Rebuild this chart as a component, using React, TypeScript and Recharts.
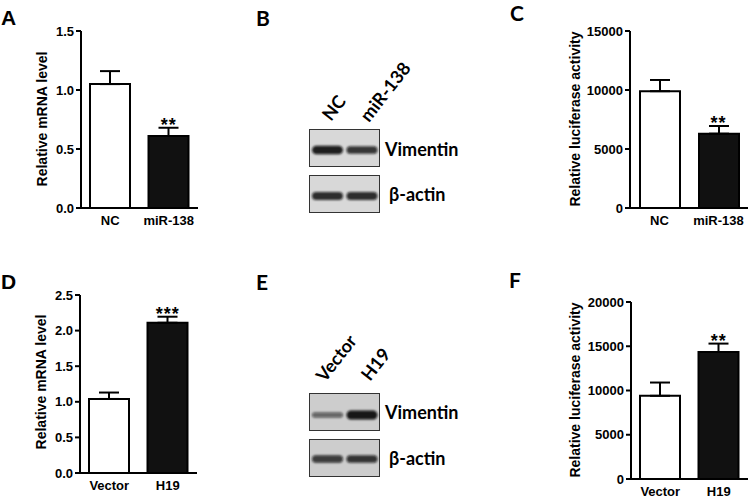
import React from "react";
import { ComposedChart, BarChart, Bar, XAxis, YAxis, ErrorBar, Scatter, Cell } from "recharts";

// ---------- data ----------
const mrnaA_groups = ["NC", "miR-138"];
const mrnaA_mean = [1.05, 0.61];
const mrnaA_sem = [0.11, 0.07];
const mrnaA_sig = ["", "**"];
const mrnaA_ticks = [0, 0.5, 1.0, 1.5];

const lucC_groups = ["NC", "miR-138"];
const lucC_mean = [9900, 6300];
const lucC_sem = [950, 650];
const lucC_sig = ["", "**"];
const lucC_ticks = [0, 5000, 10000, 15000];

const mrnaD_groups = ["Vector", "H19"];
const mrnaD_mean = [1.04, 2.11];
const mrnaD_sem = [0.09, 0.085];
const mrnaD_sig = ["", "***"];
const mrnaD_ticks = [0, 0.5, 1.0, 1.5, 2.0, 2.5];

const lucF_groups = ["Vector", "H19"];
const lucF_mean = [9400, 14350];
const lucF_sem = [1500, 950];
const lucF_sig = ["", "**"];
const lucF_ticks = [0, 5000, 10000, 15000, 20000];

const blotB_lanes = ["NC", "miR-138"];
const blotB_vimentin = [0.95, 0.78];
const blotB_actin = [0.85, 0.85];
const blotE_lanes = ["Vector", "H19"];
const blotE_vimentin = [0.4, 1.0];
const blotE_actin = [0.72, 0.78];

const proteinLabels = ["Vimentin", "β-actin"];

// ---------- styles ----------
const FONT = "'Liberation Sans', Arial, sans-serif";
const FONT2 = "Lato, 'Open Sans', sans-serif";
const BAR_FILLS = ["#ffffff", "#111111"];
const AX = { stroke: "#000", strokeWidth: 2 };
const TICK = { fill: "#000", fontSize: 13, fontWeight: 700, fontFamily: FONT };

type PanelProps = {
  groups: string[]; mean: number[]; sem: number[]; sig: string[]; ticks: number[];
  fmt: (v: number) => string; title: string;
  left: number; top: number; width: number; height: number;
  yAxisWidth: number; marginTop: number; marginRight: number; xAxisHeight: number;
  titleX: number; titleY: number;
};

const starShape = (p: any) => {
  const s = p && p.payload && p.payload.sig;
  if (!s) return <g />;
  return (
    <text x={p.cx} y={p.cy + 3} textAnchor="middle" fontSize={18} fontWeight={700} fontFamily={FONT} fill="#000" letterSpacing={1}>
      {s}
    </text>
  );
};

function BarPanel(p: PanelProps) {
  const data = p.groups.map((g, i) => ({
    group: g,
    mean: p.mean[i],
    err: [0, p.sem[i]],
    starY: p.mean[i] + p.sem[i],
    sig: p.sig[i],
  }));
  const max = p.ticks[p.ticks.length - 1];
  return (
    <div style={{ position: "absolute", left: p.left, top: p.top }}>
      <ComposedChart
        width={p.width}
        height={p.height}
        data={data}
        margin={{ top: p.marginTop, right: p.marginRight, bottom: 0, left: 0 }}
      >
        <XAxis dataKey="group" height={p.xAxisHeight} tickLine={false} axisLine={AX} tick={TICK} interval={0} />
        <YAxis
          type="number"
          domain={[0, max]}
          ticks={p.ticks}
          width={p.yAxisWidth}
          tickFormatter={p.fmt}
          tickSize={5}
          axisLine={AX}
          tickLine={AX}
          tick={TICK}
          allowDataOverflow
          label={() => (
            <text
              x={p.titleX}
              y={p.titleY}
              transform={`rotate(-90 ${p.titleX} ${p.titleY})`}
              textAnchor="middle"
              fontSize={14}
              fontWeight={700}
              fontFamily={FONT}
              fill="#000"
            >
              {p.title}
            </text>
          )}
        />
        <Bar dataKey="mean" barSize={40} stroke="#000" strokeWidth={2} isAnimationActive={false}>
          {data.map((d, i) => (
            <Cell key={i} fill={BAR_FILLS[i]} />
          ))}
          <ErrorBar dataKey="err" width={10} stroke="#000" strokeWidth={2} direction="y" isAnimationActive={false} />
        </Bar>
        <Scatter dataKey="starY" shape={starShape} isAnimationActive={false} />
      </ComposedChart>
    </div>
  );
}

type StripProps = { lanes: string[]; values: number[]; left: number; top: number; bg: string; bandY: number; id: string };

function BlotStrip(s: StripProps) {
  const data = s.lanes.map((l, i) => ({ lane: l, v: s.values[i] }));
  const shape = (props: any) => {
    const v = props.payload.v;
    const h = 3 + 6 * v;
    const cy = s.bandY;
    return (
      <g>
        <defs>
          <filter id={s.id} x="-20%" y="-100%" width="140%" height="300%">
            <feGaussianBlur stdDeviation={1.1} />
          </filter>
        </defs>
        <rect
          x={props.x + 1}
          y={cy - h / 2}
          width={props.width - 2}
          height={h}
          rx={h / 2}
          fill={`rgba(12,12,12,${0.3 + 0.65 * v})`}
          filter={`url(#${s.id})`}
        />
      </g>
    );
  };
  return (
    <div
      style={{
        position: "absolute",
        left: s.left,
        top: s.top,
        width: 71,
        height: 38,
        background: s.bg,
        border: "1px solid #333",
        boxSizing: "border-box",
      }}
    >
      <BarChart width={69} height={36} data={data} margin={{ top: 0, right: 0, bottom: 0, left: 0 }} barCategoryGap={1}>
        <XAxis dataKey="lane" hide />
        <YAxis hide domain={[0, 1]} />
        <Bar dataKey="v" shape={shape} isAnimationActive={false} />
      </BarChart>
    </div>
  );
}

const letterStyle = { fontSize: 21, fontWeight: 700, fill: "#000" } as const;
const blotText = { fontSize: 18, fontWeight: 700, fontFamily: FONT2, fill: "#000" } as const;

export default function App() {
  const f1 = (v: number) => v.toFixed(1);
  const f0 = (v: number) => String(v);
  return (
    <div style={{ position: "absolute", left: 0, top: 0, width: 750, height: 498, background: "#fff", overflow: "hidden" }}>
      <svg width={750} height={498} style={{ position: "absolute", left: 0, top: 0 }}>
        <text x={1} y={25} fontFamily={FONT} {...letterStyle}>A</text>
        <text x={256} y={26} fontFamily={FONT2} {...letterStyle}>B</text>
        <text x={510} y={21} fontFamily={FONT2} {...letterStyle}>C</text>
        <text x={1} y={289} fontFamily={FONT} {...letterStyle}>D</text>
        <text x={256} y={290} fontFamily={FONT2} {...letterStyle}>E</text>
        <text x={509} y={288} fontFamily={FONT2} {...letterStyle}>F</text>

        <text x={331} y={122} transform="rotate(-52 331 122)" {...blotText}>{blotB_lanes[0]}</text>
        <text x={369} y={123} transform="rotate(-52 369 123)" {...blotText}>{blotB_lanes[1]}</text>
        <text x={385} y={156} {...blotText}>{proteinLabels[0]}</text>
        <text x={389} y={201} {...blotText}>{proteinLabels[1]}</text>

        <text x={325} y={383} transform="rotate(-52 325 383)" {...blotText}>{blotE_lanes[0]}</text>
        <text x={370} y={382} transform="rotate(-52 370 382)" {...blotText}>{blotE_lanes[1]}</text>
        <text x={385} y={419} {...blotText}>{proteinLabels[0]}</text>
        <text x={389} y={465} {...blotText}>{proteinLabels[1]}</text>
      </svg>

      <BarPanel groups={mrnaA_groups} mean={mrnaA_mean} sem={mrnaA_sem} sig={mrnaA_sig} ticks={mrnaA_ticks} fmt={f1}
        title="Relative mRNA level" left={0} top={0} width={205} height={240} yAxisWidth={81} marginTop={31}
        marginRight={7} xAxisHeight={32} titleX={47} titleY={119} />
      <BarPanel groups={lucC_groups} mean={lucC_mean} sem={lucC_sem} sig={lucC_sig} ticks={lucC_ticks} fmt={f0}
        title="Relative luciferase activity" left={500} top={0} width={250} height={240} yAxisWidth={130} marginTop={31}
        marginRight={2} xAxisHeight={32} titleX={80} titleY={119} />
      <BarPanel groups={mrnaD_groups} mean={mrnaD_mean} sem={mrnaD_sem} sig={mrnaD_sig} ticks={mrnaD_ticks} fmt={f1}
        title="Relative mRNA level" left={0} top={250} width={205} height={248} yAxisWidth={80} marginTop={45}
        marginRight={8} xAxisHeight={25} titleX={46} titleY={132} />
      <BarPanel groups={lucF_groups} mean={lucF_mean} sem={lucF_sem} sig={lucF_sig} ticks={lucF_ticks} fmt={f0}
        title="Relative luciferase activity" left={500} top={250} width={250} height={248} yAxisWidth={131} marginTop={52}
        marginRight={2} xAxisHeight={19} titleX={80} titleY={140} />

      <BlotStrip lanes={blotB_lanes} values={blotB_vimentin} left={309} top={129} bg="#d8d8d8" bandY={20} id="bB1" />
      <BlotStrip lanes={blotB_lanes} values={blotB_actin} left={309} top={175} bg="#d8d8d8" bandY={20} id="bB2" />
      <BlotStrip lanes={blotE_lanes} values={blotE_vimentin} left={309} top={393} bg="#cdcdcd" bandY={21} id="bE1" />
      <BlotStrip lanes={blotE_lanes} values={blotE_actin} left={309} top={439} bg="#cdcdcd" bandY={19} id="bE2" />
    </div>
  );
}
